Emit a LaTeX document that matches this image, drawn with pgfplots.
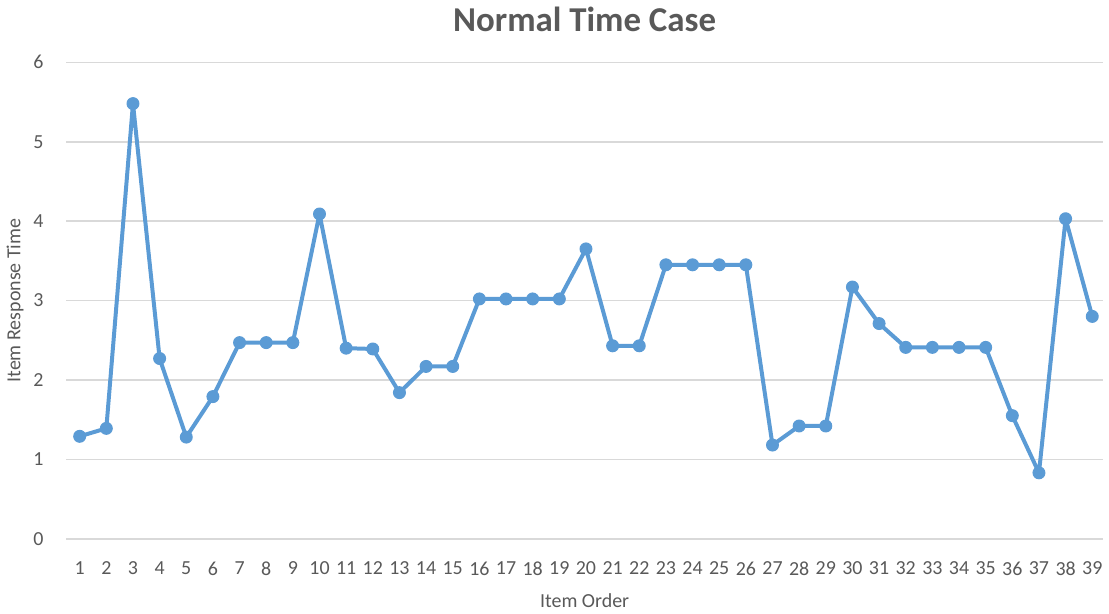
\documentclass[border=0pt]{standalone}
\usepackage{fontspec}
\setmainfont{Carlito}
\usepackage{pgfplots}
\pgfplotsset{compat=1.18}
\definecolor{linecol}{HTML}{5B9BD5}
\definecolor{gridcol}{HTML}{D9D9D9}
\definecolor{textcol}{HTML}{595959}

\begin{document}
\begin{tikzpicture}
\begin{axis}[
    width=520pt, height=239pt,
    scale only axis,
    xmin=0.5, xmax=39.4,
    ymin=0, ymax=6,
    xtick={1,...,39},
    ytick={0,1,...,6},
    ymajorgrids=true,
    grid style={gridcol, line width=0.8pt},
    axis line style={draw=none},
    major tick length=0pt,
    tick label style={font=\fontsize{10pt}{11pt}\selectfont, text=textcol},
    /pgf/number format/assume math mode=true,
    xticklabel style={yshift=-8pt},
    yticklabel style={xshift=-8pt},
    title={\textbf{Normal Time Case}},
    title style={font=\fontsize{17.5pt}{19pt}\selectfont, text=textcol, yshift=6pt},
    xlabel={Item Order},
    ylabel={Item Response Time},
    label style={font=\fontsize{10pt}{11pt}\selectfont, text=textcol},
    xlabel style={yshift=-2pt},
    ylabel style={yshift=-2pt},
    clip=false,
]
\addplot[color=linecol, line width=2pt, line join=round, mark=*, mark size=3pt,
         mark options={fill=linecol, draw=linecol, line width=0.5pt}]
coordinates {
(1,1.29)(2,1.39)(3,5.48)(4,2.27)(5,1.28)(6,1.79)(7,2.47)(8,2.47)(9,2.47)
(10,4.09)(11,2.40)(12,2.39)(13,1.84)(14,2.17)(15,2.17)(16,3.02)(17,3.02)
(18,3.02)(19,3.02)(20,3.65)(21,2.43)(22,2.43)(23,3.45)(24,3.45)(25,3.45)
(26,3.45)(27,1.18)(28,1.42)(29,1.42)(30,3.17)(31,2.71)(32,2.41)(33,2.41)
(34,2.41)(35,2.41)(36,1.55)(37,0.83)(38,4.03)(39,2.80)
};
\end{axis}
\end{tikzpicture}
\end{document}
